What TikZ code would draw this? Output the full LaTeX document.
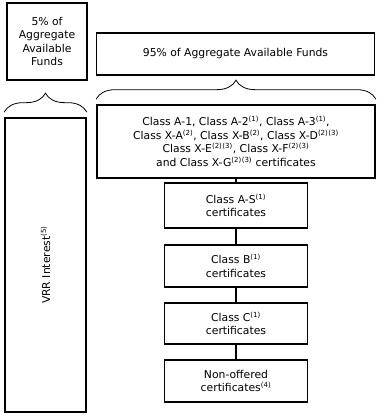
\documentclass[tikz,border=0pt]{standalone}
\usepackage{fontspec}
\setmainfont{DejaVu Sans}
\usepackage{tikz}
\usetikzlibrary{decorations.pathreplacing}
\newcommand{\fnr}[1]{\textsuperscript{\fontsize{7}{7}\selectfont(#1)}}
\tikzset{
  fundbox/.style={draw, line width=1.7pt, rectangle, align=center, inner sep=2pt,
    font=\fontsize{10.8}{13.6}\selectfont},
  certbox/.style={fundbox, minimum width=143pt},
  fundbrace/.style={line width=0.8pt, decorate, decoration={brace, amplitude=19pt}},
  link/.style={line width=1.7pt}
}
\begin{document}
\begin{tikzpicture}[x=1pt, y=-1pt]
  \useasboundingbox (0,0) rectangle (382,416);
  % left column
  \node[fundbox, minimum width=80pt, minimum height=77pt] (five) at (47,41.5) {5\% of\\Aggregate\\Available\\Funds};
  \node[fundbox, minimum width=81pt, minimum height=294pt] (vrr) at (45.5,265) {};
  \node[rotate=90, font=\fontsize{10.8}{13.6}\selectfont] (vrrlabel) at (vrr.center) {VRR Interest\fnr{5}};
  \coordinate (lbl) at ([yshift=5pt]vrr.north west);
  \coordinate (lbr) at ([yshift=5pt]vrr.north east);
  \draw[fundbrace] (lbl) -- (lbr);
  % right column
  \node[fundbox, minimum width=278pt, minimum height=42pt] (ninetyfive) at (235.5,54) {95\% of Aggregate Available Funds};
  \node[fundbox, minimum width=278pt, minimum height=73pt] (classes) at (236,141.5)
    {Class A-1, Class A-2\fnr{1}, Class A-3\fnr{1},\\
     Class X-A\fnr{2}, Class X-B\fnr{2}, Class X-D\fnr{2}\fnr{3}\\
     Class X-E\fnr{2}\fnr{3}, Class X-F\fnr{2}\fnr{3}\\
     and Class X-G\fnr{2}\fnr{3} certificates};
  \coordinate (rbl) at ([yshift=5pt]classes.north west);
  \coordinate (rbr) at ([yshift=5pt]classes.north east);
  \draw[fundbrace] (rbl) -- (rbr);
  % subordinate certificates
  \node[certbox, minimum height=45pt] (as) at (236,205.5) {Class A-S\fnr{1}\\certificates};
  \node[certbox, minimum height=42pt] (b) at (236,266) {Class B\fnr{1}\\certificates};
  \node[certbox, minimum height=41pt] (c) at (236,323.5) {Class C\fnr{1}\\certificates};
  \node[certbox, minimum height=42pt] (nonoff) at (236,381) {Non-offered\\certificates\fnr{4}};
  \draw[link] (classes.south) -- (as.north);
  \draw[link] (as.south) -- (b.north);
  \draw[link] (b.south) -- (c.north);
  \draw[link] (c.south) -- (nonoff.north);
\end{tikzpicture}
\end{document}
